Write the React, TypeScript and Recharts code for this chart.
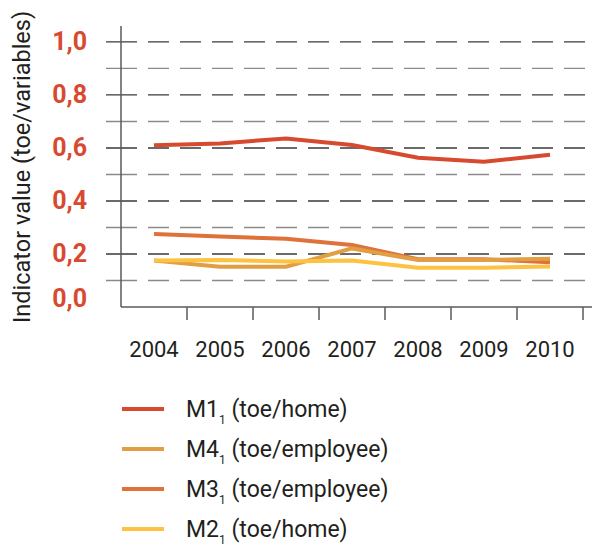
import React from "react";
import { LineChart, Line, XAxis, YAxis, ReferenceLine } from "recharts";

const years = ["2004", "2005", "2006", "2007", "2008", "2009", "2010"];
const m1 = [0.61, 0.617, 0.636, 0.611, 0.563, 0.548, 0.574];
const m3 = [0.275, 0.266, 0.257, 0.234, 0.18, 0.18, 0.169];
const m4 = [0.175, 0.152, 0.152, 0.221, 0.177, 0.177, 0.182];
const m2 = [0.175, 0.177, 0.172, 0.175, 0.148, 0.148, 0.153];
const yTicks = [0, 0.2, 0.4, 0.6, 0.8, 1.0];
const gridValues = [0.1, 0.2, 0.3, 0.4, 0.5, 0.6, 0.7, 0.8, 0.9, 1.0];

const series = [
  { key: "m1", name: "M1", unit: "(toe/home)", color: "#d84a2f" },
  { key: "m4", name: "M4", unit: "(toe/employee)", color: "#e29e43" },
  { key: "m3", name: "M3", unit: "(toe/employee)", color: "#df713a" },
  { key: "m2", name: "M2", unit: "(toe/home)", color: "#fdc241" },
];

const data = years.map((year, i) => ({
  x: i + 0.5,
  year,
  m1: m1[i],
  m2: m2[i],
  m3: m3[i],
  m4: m4[i],
}));

const FONT = "Roboto, sans-serif";
const INK = "#231f20";
const dash = "31 11 " + Array(13).fill("21 11").join(" ") + " 21 400";

const XTick = (props: any) => {
  const { x, y, payload } = props;
  const v = payload.value;
  if (Number.isInteger(v)) {
    return <line x1={x} x2={x} y1={y} y2={y + 13} stroke="#5a5a5a" strokeWidth={1.5} />;
  }
  const idx = Math.floor(v);
  return (
    <text x={x} y={y + 50} textAnchor="middle" fontFamily={FONT} fontSize={22} fill={INK}>
      {years[idx]}
    </text>
  );
};

const YTick = (props: any) => {
  const { y, payload } = props;
  const v = payload.value;
  return (
    <text
      x={87}
      y={y + (v === 0 ? -8 : 0)}
      dy={8}
      textAnchor="end"
      fontFamily={FONT}
      fontWeight={700}
      fontSize={25}
      fill="#d84a2f"
    >
      {v.toFixed(1).replace(".", ",")}
    </text>
  );
};

export default function App() {
  return (
    <div style={{ position: "absolute", left: 0, top: 0, width: 592, height: 545, background: "#fff" }}>
      <LineChart width={592} height={380} data={data} margin={{ top: 26, right: 0, left: 0, bottom: 23 }}>
        <XAxis
          dataKey="x"
          type="number"
          domain={[0, 471 / 66]}
          ticks={[0.5, 1, 1.5, 2, 2.5, 3, 3.5, 4, 4.5, 5, 5.5, 6, 6.5, 7]}
          tick={<XTick />}
          tickLine={false}
          tickSize={0}
          tickMargin={0}
          height={50}
          axisLine={{ stroke: "#5a5a5a", strokeWidth: 1.5 }}
          allowDataOverflow
        />
        <YAxis
          type="number"
          domain={[0, 1.06]}
          ticks={yTicks}
          tick={<YTick />}
          tickLine={false}
          width={121}
          axisLine={{ stroke: "#5a5a5a", strokeWidth: 1.5 }}
          allowDataOverflow
          label={() => (
            <text
              transform="translate(30,167) rotate(-90)"
              textAnchor="middle"
              fontFamily={FONT}
              fontSize={23.5}
              fill={INK}
            >
              Indicator value (toe/variables)
            </text>
          )}
        />
        {gridValues.map((g, i) => (
          <ReferenceLine
            key={g}
            segment={[
              { x: -15 / 66, y: g },
              { x: 464 / 66, y: g },
            ]}
            ifOverflow="visible"
            stroke={i % 2 === 1 ? "#3a3a3a" : "#8a8a8a"}
            strokeWidth={1.4}
            strokeDasharray={dash}
          />
        ))}
        <Line dataKey="m1" stroke="#d84a2f" strokeWidth={4} dot={false} isAnimationActive={false} />
        <Line dataKey="m3" stroke="#df713a" strokeWidth={4} dot={false} isAnimationActive={false} />
        <Line dataKey="m4" stroke="#e29e43" strokeWidth={4} dot={false} isAnimationActive={false} />
        <Line dataKey="m2" stroke="#fdc241" strokeWidth={4} dot={false} isAnimationActive={false} />
      </LineChart>
      {series.map((s, i) => (
        <div
          key={s.key}
          style={{
            position: "absolute",
            left: 122,
            top: 409 + i * 40 - 15,
            height: 30,
            display: "flex",
            alignItems: "center",
            fontFamily: FONT,
            fontSize: 23,
            color: INK,
            whiteSpace: "nowrap",
          }}
        >
          <span style={{ display: "inline-block", width: 42, height: 4, background: s.color, marginRight: 22 }} />
          <span style={{ color: INK }}>
            {s.name}
            <span style={{ fontSize: 12, position: "relative", top: 7, color: INK }}>1</span> {s.unit}
          </span>
        </div>
      ))}
    </div>
  );
}
